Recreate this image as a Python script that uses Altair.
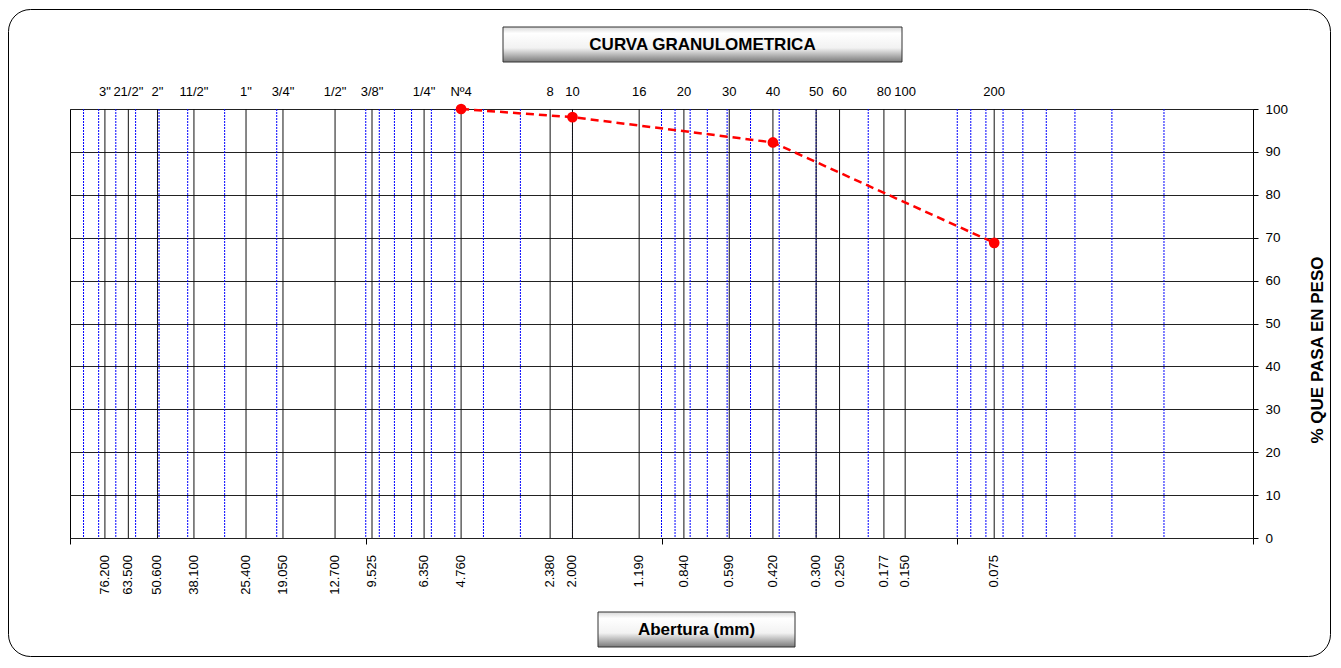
import altair as alt
import pandas as pd

# ---------------- data ----------------
sieve_names = ['3"', '21/2"', '2"', '11/2"', '1"', '3/4"', '1/2"', '3/8"', '1/4"', 'Nº4',
               '8', '10', '16', '20', '30', '40', '50', '60', '80', '100', '200']
sieve_mm = [76.2, 63.5, 50.6, 38.1, 25.4, 19.05, 12.7, 9.525, 6.35, 4.76,
            2.38, 2.0, 1.19, 0.84, 0.59, 0.42, 0.3, 0.25, 0.177, 0.15, 0.075]
sieve_labels = ["76.200", "63.500", "50.600", "38.100", "25.400", "19.050", "12.700", "9.525",
                "6.350", "4.760", "2.380", "2.000", "1.190", "0.840", "0.590", "0.420",
                "0.300", "0.250", "0.177", "0.150", "0.075"]

# log minor grid (blue dotted)
minor_grid = [90, 80, 70, 60, 50, 40, 30, 20,
              10, 9, 8, 7, 6, 5, 4, 3, 2,
              1, 0.9, 0.8, 0.7, 0.6, 0.5, 0.4, 0.3, 0.2,
              0.1, 0.09, 0.08, 0.07, 0.06, 0.05, 0.04, 0.03, 0.02]
decades = [100, 10, 1, 0.1, 0.01]
y_ticks = [0, 10, 20, 30, 40, 50, 60, 70, 80, 90, 100]

curve_mm = [4.76, 2.0, 0.42, 0.075]
curve_pct = [100, 98.1, 92.2, 68.8]

FONT = "Liberation Sans"

sieves = pd.DataFrame({"d": sieve_mm, "name": sieve_names, "lbl": sieve_labels})
minor = pd.DataFrame({"d": minor_grid})
curve = pd.DataFrame({"d": curve_mm, "p": curve_pct})
one = pd.DataFrame({"k": [0]})

xscale = alt.Scale(type="log", domain=[0.01, 100], reverse=True, nice=False)
yscale = alt.Scale(domain=[0, 100], nice=False)

x_axis = alt.Axis(values=decades, labels=False, ticks=True, tickSize=6, tickColor="black",
                  domain=False, grid=False, title=None)
y_axis = alt.Axis(orient="right", values=y_ticks, grid=True, gridColor="#222222",
                  gridWidth=1, domain=False, tickColor="black", tickSize=5,
                  labelPadding=7, labelFont=FONT, labelFontSize=13.5, labelColor="black",
                  title=None)

# decorations: outer border and title boxes
border = alt.Chart(one).mark_rect(fill="white", fillOpacity=0, stroke="black", strokeWidth=1,
                                  cornerRadius=22).encode(
    x=alt.value(-61.5), x2=alt.value(1260.5), y=alt.value(-99.5), y2=alt.value(547.5))

grad = alt.LinearGradient(gradient="linear", x1=0, x2=0, y1=0, y2=1,
                          stops=[alt.GradientStop(color="#d8d8d8", offset=0),
                                 alt.GradientStop(color="#ffffff", offset=0.18),
                                 alt.GradientStop(color="#f2f2f2", offset=0.6),
                                 alt.GradientStop(color="#7a7a7a", offset=1)])

title_box = alt.Chart(one).mark_rect(fill=grad, stroke="#333333", strokeWidth=1).encode(
    x=alt.value(433), x2=alt.value(832), y=alt.value(-82), y2=alt.value(-47))
title_txt = alt.Chart(one).mark_text(text="CURVA GRANULOMETRICA", font=FONT, fontSize=17,
                                     fontWeight="bold", color="black", align="center",
                                     baseline="middle").encode(
    x=alt.value(632.5), y=alt.value(-64))

xt_box = alt.Chart(one).mark_rect(fill=grad, stroke="#333333", strokeWidth=1).encode(
    x=alt.value(528), x2=alt.value(725), y=alt.value(503), y2=alt.value(538))
xt_txt = alt.Chart(one).mark_text(text="Abertura (mm)", font=FONT, fontSize=17,
                                  fontWeight="bold", color="black", align="center",
                                  baseline="middle").encode(
    x=alt.value(626.5), y=alt.value(521))

yt_txt = alt.Chart(one).mark_text(text="% QUE PASA  EN PESO", font=FONT, fontSize=17,
                                  fontWeight="bold", color="black", align="center",
                                  baseline="middle", angle=270).encode(
    x=alt.value(1248), y=alt.value(241))

# grid lines
blue = alt.Chart(minor).mark_rule(stroke="#0000ff", color="#0000ff", strokeWidth=1,
                                  strokeDash=[2, 1]).encode(
    x=alt.X("d:Q", scale=xscale, axis=x_axis))
black = alt.Chart(sieves).mark_rule(stroke="#111111", color="#111111", strokeWidth=1).encode(
    x=alt.X("d:Q", scale=xscale))

# y axis carrier (invisible points)
yaxis_layer = alt.Chart(curve).mark_point(opacity=0).encode(
    x=alt.X("d:Q", scale=xscale),
    y=alt.Y("p:Q", scale=yscale, axis=y_axis))

top_lbl = alt.Chart(sieves).mark_text(font=FONT, fontSize=13, color="black", align="center",
                                      baseline="alphabetic").encode(
    x=alt.X("d:Q", scale=xscale), y=alt.value(-13), text="name:N")
bot_lbl = alt.Chart(sieves).mark_text(font=FONT, fontSize=13, color="black", align="right",
                                      baseline="middle", angle=270).encode(
    x=alt.X("d:Q", scale=xscale), y=alt.value(446), text="lbl:N")

line = alt.Chart(curve).mark_line(color="#ff0000", strokeWidth=2.5, strokeDash=[8, 5]).encode(
    x=alt.X("d:Q", scale=xscale), y=alt.Y("p:Q", scale=yscale))
pts = alt.Chart(curve).mark_circle(color="#ff0000", opacity=1, size=115).encode(
    x=alt.X("d:Q", scale=xscale), y=alt.Y("p:Q", scale=yscale))

chart = alt.layer(
    border, blue, black, yaxis_layer, line, pts, top_lbl, bot_lbl,
    title_box, title_txt, xt_box, xt_txt, yt_txt
).properties(
    width=1183, height=429,
    autosize=alt.AutoSizeParams(type="none"),
    padding={"left": 62, "top": 101, "right": 78, "bottom": 120},
    background="white"
).configure_view(stroke="black", strokeWidth=1)

chart.save("out.html", embed_options={"renderer": "svg", "actions": False})
